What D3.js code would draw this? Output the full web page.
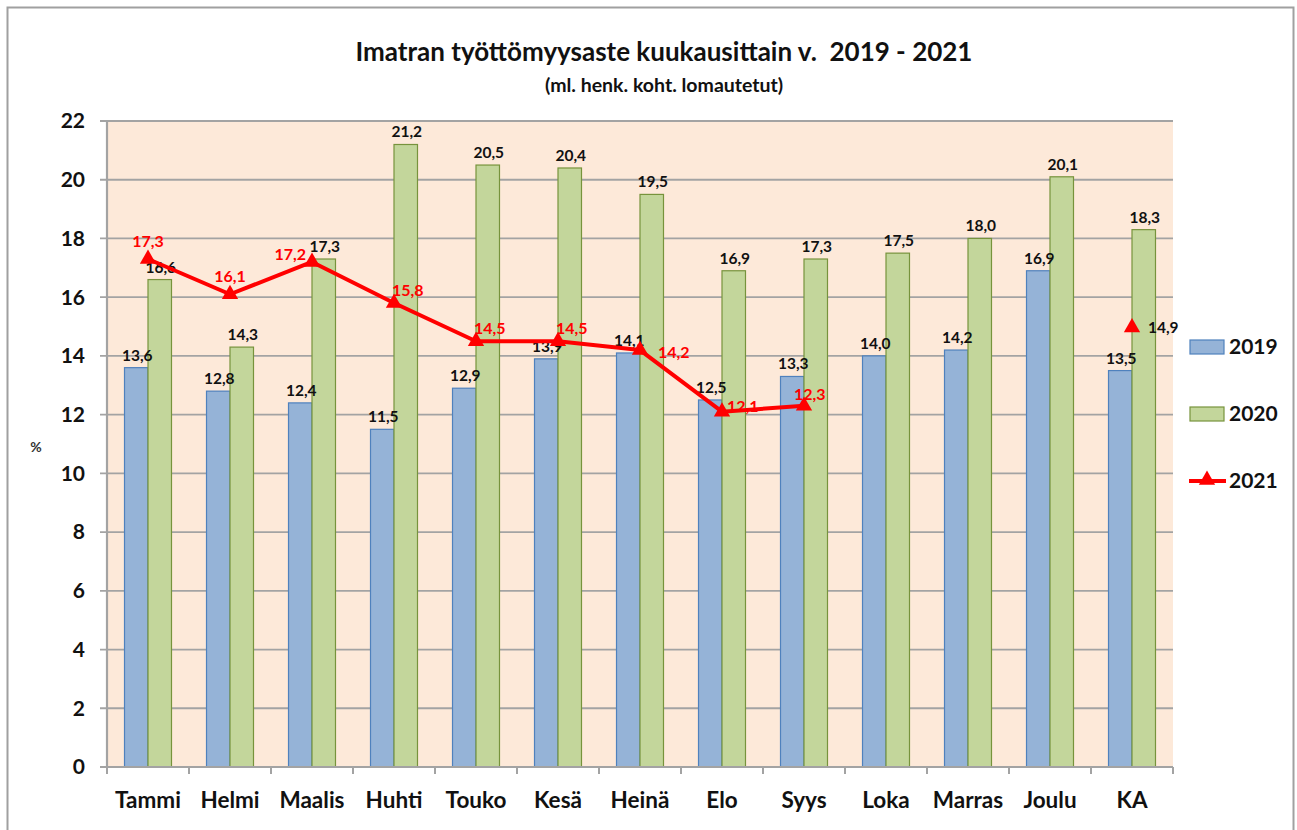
<!DOCTYPE html>
<html><head><meta charset="utf-8">
<script src="https://cdn.jsdelivr.net/npm/d3@7"></script>
<style>body{margin:0;background:#fff;} svg{display:block;}</style>
</head><body>
<svg id="c" width="1297" height="830"></svg>
<script>
const categories = ["Tammi","Helmi","Maalis","Huhti","Touko","Kesä","Heinä","Elo","Syys","Loka","Marras","Joulu","KA"];
const values2019 = [13.6,12.8,12.4,11.5,12.9,13.9,14.1,12.5,13.3,14.0,14.2,16.9,13.5];
const values2020 = [16.6,14.3,17.3,21.2,20.5,20.4,19.5,16.9,17.3,17.5,18.0,20.1,18.3];
const values2021 = [17.3,16.1,17.2,15.8,14.5,14.5,14.2,12.1,12.3,null,null,null,null];
const avg2021 = 14.9;
const yTicks = [0,2,4,6,8,10,12,14,16,18,20,22];
const labelPlace2021 = ["above","above","left","aboveRight","aboveRight","aboveRight","right","nearRight","aboveLeft"];
const seriesNames = ["2019","2020","2021"];

const svg = d3.select("#c");
const font = "Lato, 'Open Sans', sans-serif";
const M = {l:107, r:1173, t:121, b:767};

svg.append("rect").attr("x",7.5).attr("y",7.5).attr("width",1286).attr("height",830)
  .attr("fill","#fff").attr("stroke","#a0a0a0").attr("stroke-width",2);

const x = d3.scaleBand().domain(categories).range([M.l, M.r]).padding(0);
const x1 = d3.scaleBand().domain(["2019","2020"]).range([0, x.bandwidth()]).paddingInner(0).paddingOuter(0.745);
const y = d3.scaleLinear().domain([0,22]).range([M.b, M.t]);

svg.append("rect").attr("x",M.l).attr("y",M.t).attr("width",M.r-M.l).attr("height",M.b-M.t).attr("fill","#fde9d9");

svg.append("g").selectAll("line").data(yTicks).join("line")
  .attr("x1",M.l-7).attr("x2",M.r).attr("y1",d=>y(d)).attr("y2",d=>y(d))
  .attr("stroke","#a3a3a3").attr("stroke-width",1.8);

svg.append("line").attr("x1",M.l).attr("x2",M.l).attr("y1",M.t).attr("y2",M.b+1).attr("stroke","#a3a3a3").attr("stroke-width",2.2);
svg.append("g").selectAll("text").data(yTicks).join("text")
  .attr("x",85).attr("y",d=>y(d)).attr("dy","0.35em").attr("text-anchor","end")
  .attr("font-family",font).attr("font-weight","bold").attr("font-size",21).attr("fill","#111")
  .text(d=>d);
svg.append("text").attr("x",36).attr("y",447).attr("dy","0.35em").attr("text-anchor","middle")
  .attr("font-family",font).attr("font-weight","bold").attr("font-size",14).attr("fill","#333").text("%");

const bars = svg.append("g");
const seriesData = [{name:"2019",vals:values2019,fill:"#95b3d7",stroke:"#4f81bd"},{name:"2020",vals:values2020,fill:"#c3d69b",stroke:"#77933c"}];
seriesData.forEach(s=>{
  bars.selectAll(null).data(categories).join("rect")
    .attr("x",(c)=>x(c)+x1(s.name)).attr("width",x1.bandwidth())
    .attr("y",(c,i)=>y(s.vals[i])).attr("height",(c,i)=>y(0)-y(s.vals[i]))
    .attr("fill",s.fill).attr("stroke",s.stroke).attr("stroke-width",1.2);
});

svg.append("line").attr("x1",M.l).attr("x2",M.r).attr("y1",M.b).attr("y2",M.b).attr("stroke","#a3a3a3").attr("stroke-width",2);
const bounds = categories.map(c=>x(c)).concat([M.r]);
svg.append("g").selectAll("line").data(bounds).join("line")
  .attr("x1",d=>d).attr("x2",d=>d).attr("y1",M.b).attr("y2",M.b+7).attr("stroke","#a3a3a3").attr("stroke-width",2);
svg.append("g").selectAll("text").data(categories).join("text")
  .attr("x",c=>x(c)+x.bandwidth()/2).attr("y",800).attr("dy","0.35em").attr("text-anchor","middle")
  .attr("font-family",font).attr("font-weight","bold").attr("font-size",22.5).attr("fill","#111").text(c=>c);

const fmt = v=>d3.format(".1f")(v).replace(".",",");
seriesData.forEach(s=>{
  svg.append("g").selectAll("text").data(categories).join("text")
    .attr("x",c=>x(c)+x1(s.name)+x1.bandwidth()/2 + 1).attr("y",(c,i)=>y(s.vals[i])-7)
    .attr("text-anchor","middle").attr("font-family",font).attr("font-weight","bold").attr("font-size",15.5).attr("fill","#111")
    .text((c,i)=>fmt(s.vals[i]));
});

const cx = c=>x(c)+x.bandwidth()/2;
const pts = categories.map((c,i)=>({c,v:values2021[i],i})).filter(d=>d.v!=null);
svg.append("path").datum(pts)
  .attr("d",d3.line().x(d=>cx(d.c)).y(d=>y(d.v)))
  .attr("fill","none").attr("stroke","#ff0000").attr("stroke-width",4).attr("stroke-linejoin","round");
const tri = d3.symbol().type(d3.symbolTriangle).size(115);
svg.append("g").selectAll("path").data(pts).join("path")
  .attr("transform",d=>`translate(${cx(d.c)},${y(d.v)})`).attr("d",tri).attr("fill","#ff0000");
svg.append("path").attr("transform",`translate(${cx("KA")},${y(avg2021)-2})`).attr("d",tri).attr("fill","#ff0000");
svg.append("text").attr("x",cx("KA")+16).attr("y",y(avg2021)-2).attr("dy","0.35em")
  .attr("font-family",font).attr("font-weight","bold").attr("font-size",15.5).attr("fill","#111")
  .text(fmt(avg2021));

svg.append("g").selectAll("text").data(pts).join("text")
  .each(function(d){
    const p = labelPlace2021[d.i];
    const px = cx(d.c), py = y(d.v);
    const t = d3.select(this).attr("dy","0.35em");
    if(p==="above"){ t.attr("x",px).attr("y",py-18).attr("text-anchor","middle"); }
    else if(p==="left"){ t.attr("x",px-6).attr("y",py-8).attr("text-anchor","end"); }
    else if(p==="aboveRight"){ t.attr("x",px-2).attr("y",py-13).attr("text-anchor","start"); }
    else if(p==="nearRight"){ t.attr("x",px+5).attr("y",py-5).attr("text-anchor","start"); }
    else if(p==="aboveLeft"){ t.attr("x",px-10).attr("y",py-11).attr("text-anchor","start"); }
    else { t.attr("x",px+18).attr("y",py+2).attr("text-anchor","start"); }
  })
  .attr("font-family",font).attr("font-weight","bold").attr("font-size",16).attr("fill","#ff0000")
  .text(d=>fmt(d.v));

svg.append("text").attr("x",664).attr("y",52).attr("dy","0.35em").attr("text-anchor","middle")
  .attr("font-family",font).attr("font-weight","bold").attr("font-size",26).attr("fill","#111")
  .text("Imatran työttömyysaste kuukausittain v.\u00a0 2019 - 2021");
svg.append("text").attr("x",664).attr("y",85).attr("dy","0.35em").attr("text-anchor","middle")
  .attr("font-family",font).attr("font-weight","bold").attr("font-size",19.5).attr("fill","#111")
  .text("(ml. henk. koht. lomautetut)");

const leg = svg.append("g");
const legY = [347, 414, 481];
seriesNames.forEach((n,i)=>{
  if(i<2){
    leg.append("rect").attr("x",1190).attr("y",legY[i]-7).attr("width",34).attr("height",14)
      .attr("fill",seriesData[i].fill).attr("stroke",seriesData[i].stroke).attr("stroke-width",1.2);
  } else {
    leg.append("line").attr("x1",1189).attr("x2",1226).attr("y1",legY[i]).attr("y2",legY[i]).attr("stroke","#ff0000").attr("stroke-width",4);
    leg.append("path").attr("transform",`translate(1207,${legY[i]-1})`).attr("d",tri).attr("fill","#ff0000");
  }
  leg.append("text").attr("x",1229).attr("y",legY[i]).attr("dy","0.35em")
    .attr("font-family",font).attr("font-weight","bold").attr("font-size",21).attr("fill","#111").text(n);
});
</script>
</body></html>
